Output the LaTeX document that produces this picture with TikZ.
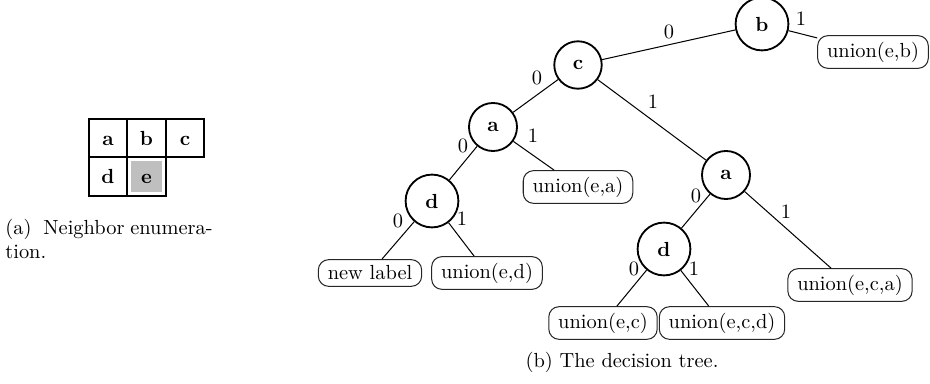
\documentclass[tikz,border=0pt]{standalone}
\begin{document}
\begin{tikzpicture}[x=0.49pt,y=-0.49pt,
  cell/.style={draw,line width=1pt,minimum size=18.9pt,inner sep=0pt,font=\bfseries,text height=6.9pt,text depth=0pt},
  dec/.style={circle,draw,line width=0.9pt,inner sep=5.8pt,font=\bfseries},
  leaf/.style={rectangle,rounded corners=5pt,draw=black!85,line width=0.5pt,inner xsep=4.6pt,inner ysep=3pt},
  elab/.style={inner sep=0pt},
  conn/.style={line width=0.5pt}]
\useasboundingbox (0,0) rectangle (930,383);
% grid
\node[cell] (ga) at (108,138) {a};
\node[cell] (gb) at (146.5,138) {b};
\node[cell] (gc) at (185,138) {c};
\node[cell] (gd) at (108,176.5) {d};
\node[cell,path picture={\fill[black!25] ([shift={(3.5,3.5)}]path picture bounding box.north west) rectangle ([shift={(-3.5,-3.5)}]path picture bounding box.south east);}] (ge) at (146.5,176.5) {e};
% caption a
\node[anchor=base west,inner sep=0pt] (ca1) at (5,234) {(a)};
\node[anchor=base,inner sep=0pt] (ca2) at (84,234) {Neighbor};
\node[anchor=base east,inner sep=0pt] (ca3) at (213,234) {enumera-};
\node[anchor=base west,inner sep=0pt] (ca4) at (5,258) {tion.};
% tree
\node[dec] (b) at (762,24) {b};
\node[dec] (c) at (578,65) {c};
\node[dec] (aL) at (493,127) {a};
\node[dec] (dL) at (432,201) {d};
\node[dec] (aR) at (726,175) {a};
\node[dec] (dR) at (664,249) {d};
\node[leaf] (ub) at (873,52) {union(e,b)};
\node[leaf] (ua) at (578,187) {union(e,a)};
\node[leaf] (nl) at (370,273) {new label};
\node[leaf] (ud) at (487,273) {union(e,d)};
\node[leaf] (uc) at (603,323) {union(e,c)};
\node[leaf] (ucd) at (722,323) {union(e,c,d)};
\node[leaf] (uca) at (850,285) {union(e,c,a)};
\draw[conn] (b) -- (c);
\draw[conn] (b) -- (ub);
\draw[conn] (c) -- (aL);
\draw[conn] (c) -- (aR);
\draw[conn] (aL) -- (dL);
\draw[conn] (aL) -- (ua);
\draw[conn] (dL) -- (nl);
\draw[conn] (dL) -- (ud);
\draw[conn] (aR) -- (dR);
\draw[conn] (aR) -- (uca);
\draw[conn] (dR) -- (uc);
\draw[conn] (dR) -- (ucd);
% edge labels
\node[elab] (l1) at (669,32) {0};
\node[elab] (l2) at (801,19) {1};
\node[elab] (l3) at (537,78) {0};
\node[elab] (l4) at (653,102) {1};
\node[elab] (l5) at (463,146) {0};
\node[elab] (l6) at (533,136) {1};
\node[elab] (l7) at (398,221) {0};
\node[elab] (l8) at (462,219) {1};
\node[elab] (l9) at (696,196) {0};
\node[elab] (l10) at (786,212) {1};
\node[elab] (l11) at (634,269) {0};
\node[elab] (l12) at (694,269) {1};
% caption b
\node[anchor=base,inner sep=0pt] (cb) at (622,367) {(b) The decision tree.};
\end{tikzpicture}
\end{document}
